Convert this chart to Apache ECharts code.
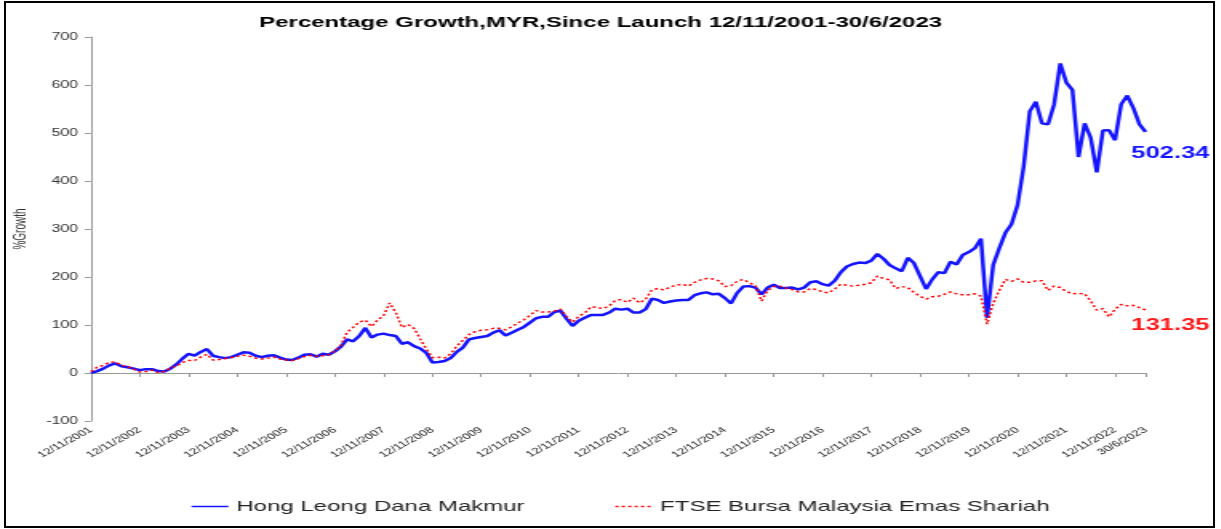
<!DOCTYPE html>
<html>
<head>
<meta charset="utf-8">
<script src="https://cdn.jsdelivr.net/npm/echarts@6/dist/echarts.min.js"></script>
<style>
html, body { margin: 0; padding: 0; background: #fff; }
#wrap { position: relative; width: 1221px; height: 529px; overflow: hidden; }
/* the source picture is stretched sideways, so draw narrow and stretch */
#main { position: absolute; left: 0; top: 0; width: 763px; height: 529px; transform: scaleX(1.6); transform-origin: 0 0; }
#frame { position: absolute; left: 4px; top: 1px; width: 1211px; height: 527px; border: 2px solid #000; box-sizing: border-box; pointer-events: none; }
</style>
</head>
<body>
<div id="wrap">
  <div id="main"></div>
  <div id="frame"></div>
</div>
<script>
// one point every 1/8 year since launch (12/11/2001)
var STEP = 1 / 8;

var xTickLabels = ['12/11/2001', '12/11/2002', '12/11/2003', '12/11/2004', '12/11/2005', '12/11/2006',
    '12/11/2007', '12/11/2008', '12/11/2009', '12/11/2010', '12/11/2011', '12/11/2012', '12/11/2013',
    '12/11/2014', '12/11/2015', '12/11/2016', '12/11/2017', '12/11/2018', '12/11/2019', '12/11/2020',
    '12/11/2021', '12/11/2022', '30/6/2023'];

var seriesNames = ['Hong Leong Dana Makmur', 'FTSE Bursa Malaysia Emas Shariah'];

// Hong Leong Dana Makmur, % growth
var fundGrowth = [
    0, 4, 9, 16, 20, 14, 12, 9,
    6, 8, 8, 4, 3, 9, 18, 30,
    40, 36, 44, 50, 36, 33, 31, 33,
    38, 43, 42, 36, 33, 36, 37, 32,
    28, 27, 32, 38, 39, 34, 40, 38,
    45, 55, 70, 66, 77, 94, 74, 80,
    82, 79, 77, 61, 64, 56, 51, 42,
    22, 23, 25, 31, 44, 53, 70, 73,
    75, 77, 84, 89, 78, 84, 90, 96,
    105, 114, 117, 117, 127, 130, 113, 98,
    109, 115, 121, 121, 121, 126, 134, 132,
    134, 126, 126, 133, 155, 152, 146, 149,
    151, 152, 152, 162, 166, 168, 164, 165,
    156, 145, 167, 180, 181, 178, 164, 178,
    184, 177, 177, 178, 174, 178, 189, 191,
    185, 182, 192, 210, 222, 227, 230, 229,
    234, 248, 238, 225, 218, 212, 240, 229,
    202, 175, 195, 210, 208, 232, 226, 246,
    252, 260, 280, 115, 225, 260, 292, 310,
    350, 430, 545, 565, 520, 518, 560, 645,
    605, 590, 450, 520, 490, 418, 505, 506,
    485, 560, 578, 552, 518, 502.34
];

// FTSE Bursa Malaysia Emas Shariah, % growth
var indexGrowth = [
    3, 12, 16, 22, 23, 16, 13, 8,
    2, 3, 6, 1, 3, 10, 15, 22,
    26, 26, 33, 39, 27, 28, 30, 32,
    35, 37, 35, 31, 29, 31, 33, 29,
    27, 26, 30, 34, 37, 35, 36, 38,
    46, 58, 85, 95, 106, 110, 97, 110,
    120, 146, 126, 95, 101, 93, 71, 50,
    32, 33, 31, 40, 56, 68, 80, 86,
    89, 90, 93, 93, 90, 96, 104, 111,
    120, 130, 127, 127, 129, 133, 118, 106,
    118, 125, 138, 137, 134, 140, 151, 153,
    147, 156, 146, 154, 173, 176, 173, 179,
    183, 185, 181, 189, 194, 197, 196, 192,
    180, 182, 191, 195, 188, 182, 150, 172,
    180, 181, 177, 174, 169, 169, 176, 174,
    169, 167, 175, 185, 183, 181, 183, 185,
    188, 202, 197, 194, 176, 180, 178, 168,
    160, 154, 159, 160, 164, 169, 165, 163,
    163, 165, 160, 102, 145, 172, 195, 191,
    196, 189, 189, 192, 192, 172, 181, 178,
    170, 165, 166, 165, 150, 131, 134, 117,
    133, 143, 140, 141, 136, 131.35
];

var lastT = (fundGrowth.length - 1) * STEP;

function toPoints(arr) {
    return arr.map(function (v, i) { return [i * STEP, v]; });
}

var chart = echarts.init(document.getElementById('main'));
var option = {
    animation: false,
    textStyle: { fontFamily: 'Liberation Sans, Arial, sans-serif' },
    title: {
        text: 'Percentage Growth,MYR,Since Launch 12/11/2001-30/6/2023',
        left: 157,
        top: 10,
        textStyle: { fontSize: 15, fontWeight: 'bold', color: '#000' }
    },
    legend: {
        left: 114,
        top: 494,
        itemWidth: 23,
        itemHeight: 12,
        itemGap: 56,
        // keep only the line in the legend key, hide the dot
        itemStyle: { opacity: 0 },
        lineStyle: { width: 1.5 },
        textStyle: { fontSize: 15, color: '#222' },
        data: seriesNames
    },
    grid: { left: 53, right: 47, top: 37, bottom: 108 },
    xAxis: [{
        type: 'value',
        min: 0,
        max: lastT,
        interval: 1,
        axisLine: { onZero: true, lineStyle: { color: '#999' } },
        axisTick: { show: true, length: 4, lineStyle: { color: '#999' } },
        axisLabel: { show: false },
        splitLine: { show: false }
    }, {
        type: 'value',
        min: 0,
        max: lastT,
        interval: 1,
        position: 'bottom',
        axisLine: { show: false, onZero: false },
        axisTick: { show: false },
        splitLine: { show: false },
        axisLabel: {
            rotate: 40,
            fontSize: 8.5,
            color: '#111',
            margin: 8,
            showMinLabel: true,
            showMaxLabel: true,
            formatter: function (v) {
                if (v >= lastT - 1e-6) return xTickLabels[xTickLabels.length - 1];
                return xTickLabels[Math.round(v)];
            }
        }
    }],
    yAxis: {
        type: 'value',
        min: -100,
        max: 700,
        interval: 100,
        name: '%Growth',
        nameLocation: 'middle',
        nameGap: 29,
        nameTextStyle: { fontSize: 10, color: '#333' },
        axisLine: { show: true, lineStyle: { color: '#999' } },
        axisTick: { show: true, length: 4, lineStyle: { color: '#999' } },
        axisLabel: { fontSize: 10, color: '#333', margin: 8 },
        splitLine: { show: false }
    },
    series: [{
        name: seriesNames[0],
        type: 'line',
        xAxisIndex: 0,
        symbol: 'none',
        data: toPoints(fundGrowth),
        lineStyle: { color: '#1414ff', width: 2.5 },
        itemStyle: { color: '#1414ff' },
        endLabel: {
            show: true,
            offset: [-17, 22],
            fontSize: 16,
            fontWeight: 'bold',
            color: '#1414ff',
            formatter: function (p) { return p.value[1].toFixed(2); }
        }
    }, {
        name: seriesNames[1],
        type: 'line',
        xAxisIndex: 0,
        symbol: 'none',
        data: toPoints(indexGrowth),
        lineStyle: { color: '#ff0000', width: 1.5, type: [2, 2] },
        itemStyle: { color: '#ff0000' },
        endLabel: {
            show: true,
            offset: [-17, 16],
            fontSize: 16,
            fontWeight: 'bold',
            color: '#ff1a1a',
            formatter: function (p) { return p.value[1].toFixed(2); }
        }
    }]
};
chart.setOption(option);
</script>
</body>
</html>
